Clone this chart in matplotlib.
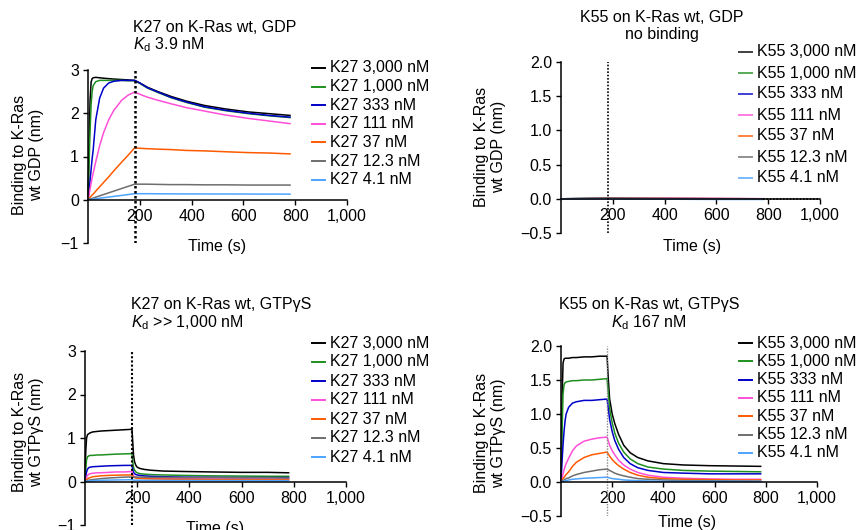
import matplotlib
matplotlib.use("Agg")
import matplotlib.pyplot as plt
from matplotlib.lines import Line2D
from matplotlib.ticker import FuncFormatter, MultipleLocator

plt.rcParams['font.family'] = ['Liberation Sans', 'DejaVu Sans']
plt.rcParams['mathtext.fontset'] = 'custom'
plt.rcParams['mathtext.rm'] = 'Liberation Sans'
plt.rcParams['mathtext.it'] = 'Liberation Sans:italic'
plt.rcParams['font.size'] = 11.5

conc = ["3,000", "1,000", "333", "111", "37", "12.3", "4.1"]
colors = ['#000000', '#1f8f1f', '#0000c8', '#ff4fd8', '#ff5a00', '#6e6e6e', '#4da3ff']
switch_t = 180

# K27 on K-Ras wt, GDP
t1 = [0, 4, 8, 12, 16, 20, 30, 45, 60, 80, 100, 130, 155, 180, 200, 230, 270, 320, 380, 450, 530, 620, 700, 780]
k27_gdp = [
    [0, 1.2, 2.3, 2.72, 2.8, 2.82, 2.83, 2.82, 2.81, 2.8, 2.79, 2.78, 2.77, 2.76, 2.7, 2.6, 2.5, 2.39, 2.28, 2.18, 2.1, 2.03, 1.99, 1.95],
    [0, 0.8, 1.6, 2.2, 2.5, 2.64, 2.73, 2.76, 2.76, 2.76, 2.76, 2.76, 2.75, 2.75, 2.69, 2.58, 2.48, 2.36, 2.25, 2.14, 2.06, 1.99, 1.94, 1.9],
    [0, 0.2, 0.45, 0.7, 0.95, 1.15, 1.85, 2.35, 2.58, 2.7, 2.74, 2.76, 2.76, 2.76, 2.7, 2.59, 2.49, 2.37, 2.26, 2.15, 2.07, 2.0, 1.95, 1.91],
    [0, 0.12, 0.25, 0.38, 0.5, 0.62, 0.88, 1.25, 1.55, 1.85, 2.07, 2.3, 2.42, 2.49, 2.44, 2.37, 2.3, 2.22, 2.13, 2.05, 1.96, 1.88, 1.82, 1.76],
    [0, 0.03, 0.05, 0.08, 0.11, 0.13, 0.2, 0.3, 0.4, 0.53, 0.67, 0.87, 1.03, 1.2, 1.19, 1.18, 1.17, 1.16, 1.14, 1.13, 1.11, 1.09, 1.08, 1.06],
    [0, 0.01, 0.02, 0.02, 0.03, 0.04, 0.06, 0.09, 0.12, 0.16, 0.2, 0.26, 0.31, 0.36, 0.36, 0.36, 0.355, 0.35, 0.35, 0.345, 0.345, 0.34, 0.34, 0.34],
    [0, 0.003, 0.006, 0.01, 0.012, 0.015, 0.023, 0.035, 0.047, 0.062, 0.078, 0.1, 0.12, 0.14, 0.14, 0.14, 0.138, 0.136, 0.135, 0.134, 0.133, 0.132, 0.131, 0.13],
]

# K55 on K-Ras wt, GDP (no binding)
t2 = [0, 180, 400, 600, 780]
k55_gdp = [
    [0, 0.01, 0.005, 0.0, 0.0],
    [0, 0.01, 0.008, 0.004, 0.0],
    [0, 0.005, 0.0, -0.003, -0.005],
    [0, 0.005, 0.012, 0.008, 0.002],
    [0, 0.005, 0.004, 0.002, 0.0],
    [0, 0.004, 0.002, 0.0, -0.004],
    [0, 0.0, -0.005, -0.01, -0.01],
]

# K27 on K-Ras wt, GTPgS
t3 = [0, 3, 6, 10, 15, 20, 30, 45, 60, 90, 120, 150, 180, 183, 186, 190, 195, 200, 210, 225, 250, 300, 380, 480, 600, 700, 780]
k27_gtp = [
    [0, 0.7, 1.0, 1.08, 1.1, 1.12, 1.14, 1.15, 1.16, 1.17, 1.18, 1.19, 1.2, 0.9, 0.6, 0.45, 0.37, 0.33, 0.3, 0.28, 0.26, 0.24, 0.23, 0.22, 0.21, 0.21, 0.2],
    [0, 0.3, 0.5, 0.57, 0.59, 0.6, 0.6, 0.61, 0.61, 0.62, 0.63, 0.635, 0.64, 0.45, 0.32, 0.26, 0.22, 0.2, 0.18, 0.17, 0.16, 0.15, 0.14, 0.13, 0.125, 0.12, 0.12],
    [0, 0.12, 0.22, 0.29, 0.32, 0.33, 0.34, 0.345, 0.35, 0.36, 0.365, 0.37, 0.37, 0.28, 0.21, 0.18, 0.16, 0.15, 0.14, 0.13, 0.12, 0.11, 0.1, 0.095, 0.09, 0.09, 0.09],
    [0, 0.05, 0.1, 0.14, 0.17, 0.18, 0.19, 0.2, 0.2, 0.21, 0.22, 0.22, 0.23, 0.17, 0.13, 0.11, 0.1, 0.09, 0.085, 0.08, 0.075, 0.07, 0.065, 0.06, 0.06, 0.06, 0.06],
    [0, 0.02, 0.04, 0.06, 0.08, 0.09, 0.11, 0.12, 0.13, 0.14, 0.145, 0.15, 0.15, 0.12, 0.1, 0.09, 0.08, 0.075, 0.07, 0.065, 0.06, 0.055, 0.05, 0.045, 0.04, 0.04, 0.04],
    [0, 0.01, 0.015, 0.02, 0.03, 0.035, 0.045, 0.055, 0.065, 0.08, 0.09, 0.1, 0.105, 0.1, 0.1, 0.1, 0.1, 0.1, 0.1, 0.1, 0.095, 0.095, 0.09, 0.09, 0.085, 0.085, 0.08],
    [0, 0.005, 0.008, 0.01, 0.013, 0.015, 0.02, 0.025, 0.028, 0.032, 0.035, 0.038, 0.04, 0.035, 0.032, 0.03, 0.03, 0.03, 0.028, 0.027, 0.026, 0.025, 0.024, 0.022, 0.021, 0.02, 0.02],
]

# K55 on K-Ras wt, GTPgS
t4 = [0, 4, 8, 12, 16, 20, 30, 45, 60, 90, 120, 150, 180, 185, 190, 200, 210, 225, 245, 270, 300, 340, 400, 480, 580, 680, 780]
k55_gtp = [
    [0, 1.2, 1.75, 1.81, 1.82, 1.82, 1.82, 1.83, 1.83, 1.84, 1.84, 1.85, 1.85, 1.5, 1.22, 1.0, 0.86, 0.7, 0.54, 0.43, 0.36, 0.31, 0.27, 0.25, 0.24, 0.235, 0.23],
    [0, 0.7, 1.3, 1.43, 1.46, 1.47, 1.48, 1.49, 1.49, 1.5, 1.5, 1.51, 1.52, 1.3, 1.08, 0.87, 0.72, 0.57, 0.44, 0.34, 0.27, 0.22, 0.19, 0.17, 0.16, 0.155, 0.15],
    [0, 0.3, 0.55, 0.75, 0.9, 1.0, 1.1, 1.16, 1.18, 1.2, 1.2, 1.21, 1.22, 1.07, 0.92, 0.74, 0.61, 0.48, 0.36, 0.27, 0.21, 0.17, 0.14, 0.13, 0.12, 0.12, 0.12],
    [0, 0.06, 0.12, 0.18, 0.23, 0.27, 0.35, 0.46, 0.53, 0.6, 0.63, 0.65, 0.66, 0.6, 0.54, 0.46, 0.4, 0.32, 0.25, 0.19, 0.14, 0.1, 0.07, 0.055, 0.045, 0.04, 0.04],
    [0, 0.02, 0.05, 0.07, 0.09, 0.11, 0.15, 0.23, 0.29, 0.36, 0.4, 0.42, 0.44, 0.41, 0.38, 0.33, 0.29, 0.24, 0.19, 0.14, 0.1, 0.07, 0.05, 0.04, 0.035, 0.03, 0.03],
    [0, 0.01, 0.02, 0.03, 0.04, 0.05, 0.06, 0.09, 0.11, 0.14, 0.16, 0.18, 0.19, 0.18, 0.17, 0.15, 0.13, 0.11, 0.09, 0.07, 0.05, 0.04, 0.03, 0.02, 0.02, 0.015, 0.01],
    [0, 0.005, 0.01, 0.015, 0.02, 0.02, 0.03, 0.04, 0.045, 0.055, 0.06, 0.065, 0.07, 0.065, 0.06, 0.05, 0.045, 0.04, 0.03, 0.025, 0.02, 0.015, 0.01, 0.01, 0.01, 0.01, 0.01],
]

W, H = 864, 530
fig = plt.figure(figsize=(W / 100, H / 100), dpi=100)


def fx(px):
    return px / W


def fy(py):
    return 1 - py / H


def make_axes(left, right, top, bottom, ylim, ystep):
    ax = fig.add_axes([fx(left), fy(bottom), (right - left) / W, (bottom - top) / H])
    ax.set_xlim(0, 1000)
    ax.set_ylim(*ylim)
    ax.spines['top'].set_visible(False)
    ax.spines['right'].set_visible(False)
    ax.spines['bottom'].set_position(('data', 0))
    ax.spines['left'].set_linewidth(1.1)
    ax.spines['bottom'].set_linewidth(1.1)
    ax.set_xticks([200, 400, 600, 800, 1000])
    ax.xaxis.set_major_formatter(FuncFormatter(lambda v, p: f"{v:,.0f}"))
    ax.yaxis.set_major_locator(MultipleLocator(ystep))
    ax.tick_params(direction='out', length=3.5, width=1.0, pad=3, labelsize=11.5)
    return ax


def plot_panel(ax, t, series, vline_color, vline_lw, alpha=1.0):
    for vals, c in zip(series, colors):
        ax.plot(t, vals, color=c, lw=1.1, alpha=alpha, clip_on=False)
    ax.axvline(switch_t, color=vline_color, lw=vline_lw, ls=(0, (1, 1)))


def legend(x_line, y_first, dy, prefix, alpha=1.0):
    for i, (c, lab) in enumerate(zip(colors, conc)):
        y = y_first + i * dy
        fig.add_artist(Line2D([fx(x_line), fx(x_line + 13)], [fy(y), fy(y)], color=c, lw=1.4, alpha=alpha))
        fig.text(fx(x_line + 18), fy(y), f"{prefix} {lab} nM", ha='left', va='center')


def ylab(x, y, text):
    fig.text(fx(x), fy(y), text, rotation=90, ha='center', va='center', multialignment='center',
             linespacing=1.15)


# panel 1
ax1 = make_axes(88, 347, 70, 243, (-1, 3), 1)
plot_panel(ax1, t1, k27_gdp, 'black', 1.8)
legend(312, 68, 18.6, "K27")
fig.text(fx(133), fy(27), "K27 on K-Ras wt, GDP", ha='left', va='center')
fig.text(fx(133), fy(45), r"$K_\mathrm{d}$ 3.9 nM", ha='left', va='center')
ylab(28, 155, "Binding to K-Ras\nwt GDP (nm)")
fig.text(fx(217), fy(247), "Time (s)", ha='center', va='center')

# panel 2
ax2 = make_axes(561, 820, 62, 233, (-0.5, 2.0), 0.5)
plot_panel(ax2, t2, k55_gdp, 'black', 1.2, alpha=0.8)
ax2.plot([780, 1000], [0, 0], color='black', lw=1.2, ls=(0, (1, 1)), clip_on=False)
legend(739, 52, 21, "K55", alpha=0.75)
fig.text(fx(662), fy(17), "K55 on K-Ras wt, GDP", ha='center', va='center')
fig.text(fx(662), fy(35), "no binding", ha='center', va='center')
ylab(490, 147, "Binding to K-Ras\nwt GDP (nm)")
fig.text(fx(692), fy(247), "Time (s)", ha='center', va='center')

# panel 3
ax3 = make_axes(85, 346, 351, 525, (-1, 3), 1)
plot_panel(ax3, t3, k27_gtp, 'black', 1.5)
legend(312, 343, 19, "K27")
fig.text(fx(131), fy(305), "K27 on K-Ras wt, GTPγS", ha='left', va='center')
fig.text(fx(131), fy(323), r"$K_\mathrm{d}$ >> 1,000 nM", ha='left', va='center')
ylab(28, 432, "Binding to K-Ras\nwt GTPγS (nm)")
fig.text(fx(215), fy(529), "Time (s)", ha='center', va='center')

# panel 4
ax4 = make_axes(561, 817, 346, 516, (-0.5, 2.0), 0.5)
plot_panel(ax4, t4, k55_gtp, '#888888', 1.0)
legend(739, 343, 18.3, "K55")
fig.text(fx(649), fy(305), "K55 on K-Ras wt, GTPγS", ha='center', va='center')
fig.text(fx(649), fy(323), r"$K_\mathrm{d}$ 167 nM", ha='center', va='center')
ylab(490, 433, "Binding to K-Ras\nwt GTPγS (nm)")
fig.text(fx(687), fy(522), "Time (s)", ha='center', va='center')

fig.savefig("out.png", dpi=100)
